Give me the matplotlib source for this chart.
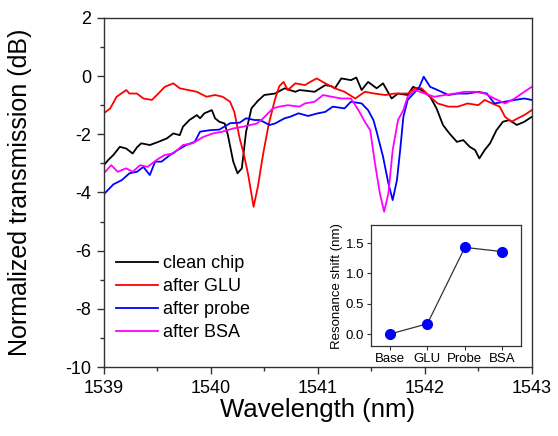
import matplotlib
matplotlib.use("Agg")
import matplotlib.pyplot as plt
from matplotlib.ticker import MultipleLocator, FormatStrFormatter

plt.rcParams['font.family'] = ['Liberation Sans', 'DejaVu Sans']
plt.rcParams['axes.unicode_minus'] = False

# ---- data ----
wl_clean = [1539.00, 1539.05, 1539.09, 1539.15, 1539.21, 1539.27, 1539.31, 1539.35, 1539.43, 1539.51,
            1539.59, 1539.65, 1539.71, 1539.74, 1539.80, 1539.87, 1539.90, 1539.94, 1540.01, 1540.04,
            1540.08, 1540.13, 1540.16, 1540.21, 1540.25, 1540.29, 1540.33, 1540.38, 1540.44, 1540.50,
            1540.60, 1540.66, 1540.69, 1540.79, 1540.83, 1540.88, 1540.97, 1541.07, 1541.13, 1541.16,
            1541.22, 1541.31, 1541.36, 1541.41, 1541.47, 1541.55, 1541.61, 1541.69, 1541.75, 1541.84,
            1541.89, 1541.97, 1542.05, 1542.11, 1542.17, 1542.23, 1542.30, 1542.36, 1542.42, 1542.47,
            1542.51, 1542.56, 1542.61, 1542.67, 1542.73, 1542.79, 1542.86, 1542.93, 1543.00]
clean = [-3.06, -2.85, -2.71, -2.43, -2.49, -2.66, -2.45, -2.31, -2.37, -2.26,
         -2.14, -1.97, -2.03, -1.74, -1.51, -1.34, -1.45, -1.28, -1.17, -1.45,
         -1.57, -1.63, -2.03, -2.94, -3.34, -3.17, -1.91, -1.11, -0.85, -0.65,
         -0.60, -0.48, -0.42, -0.54, -0.48, -0.50, -0.54, -0.31, -0.35, -0.42,
         -0.08, -0.14, -0.05, -0.48, -0.20, -0.42, -0.25, -0.77, -0.60, -0.65,
         -0.37, -0.48, -0.71, -1.11, -1.68, -1.97, -2.26, -2.20, -2.43, -2.54,
         -2.83, -2.54, -2.31, -1.86, -1.57, -1.51, -1.68, -1.57, -1.40]

wl_glu = [1539.00, 1539.06, 1539.12, 1539.21, 1539.24, 1539.31, 1539.37, 1539.45, 1539.51, 1539.57,
          1539.65, 1539.71, 1539.79, 1539.87, 1539.96, 1540.04, 1540.11, 1540.18, 1540.22, 1540.27,
          1540.31, 1540.35, 1540.40, 1540.44, 1540.49, 1540.54, 1540.60, 1540.64, 1540.68, 1540.72,
          1540.79, 1540.88, 1540.93, 1540.99, 1541.07, 1541.16, 1541.25, 1541.35, 1541.44, 1541.53,
          1541.63, 1541.72, 1541.84, 1541.91, 1541.97, 1542.05, 1542.12, 1542.22, 1542.31, 1542.40,
          1542.50, 1542.56, 1542.63, 1542.70, 1542.75, 1542.81, 1542.87, 1542.93, 1543.00]
glu = [-1.28, -1.11, -0.71, -0.48, -0.60, -0.60, -0.77, -0.82, -0.60, -0.37,
       -0.25, -0.42, -0.48, -0.54, -0.71, -0.65, -0.71, -0.88, -1.23, -2.14,
       -2.70, -3.40, -4.49, -3.80, -2.66, -1.68, -0.80, -0.35, -0.20, -0.48,
       -0.25, -0.31, -0.20, -0.08, -0.25, -0.42, -0.54, -0.77, -0.54, -0.60,
       -0.65, -0.60, -0.60, -0.42, -0.42, -0.71, -0.94, -1.05, -1.05, -0.94,
       -1.00, -0.82, -0.94, -1.05, -1.40, -1.57, -1.45, -1.34, -1.17]

wl_probe = [1539.00, 1539.09, 1539.17, 1539.24, 1539.31, 1539.37, 1539.43, 1539.48, 1539.54, 1539.62,
            1539.69, 1539.77, 1539.85, 1539.90, 1539.99, 1540.08, 1540.18, 1540.27, 1540.33, 1540.41,
            1540.46, 1540.55, 1540.60, 1540.69, 1540.74, 1540.82, 1540.91, 1540.94, 1541.00, 1541.07,
            1541.14, 1541.25, 1541.31, 1541.41, 1541.47, 1541.52, 1541.55, 1541.61, 1541.66, 1541.70,
            1541.74, 1541.77, 1541.80, 1541.84, 1541.91, 1541.95, 1541.99, 1542.05, 1542.12, 1542.22,
            1542.31, 1542.40, 1542.50, 1542.58, 1542.65, 1542.75, 1542.84, 1542.93, 1543.00]
probe = [-4.06, -3.72, -3.57, -3.34, -3.29, -3.12, -3.40, -2.94, -2.94, -2.71,
         -2.54, -2.37, -2.26, -1.91, -1.86, -1.84, -1.62, -1.60, -1.45, -1.51,
         -1.51, -1.68, -1.63, -1.45, -1.40, -1.28, -1.37, -1.34, -1.28, -1.23,
         -1.05, -1.11, -0.88, -0.94, -1.17, -1.51, -1.91, -2.77, -3.69, -4.26,
         -3.57, -2.54, -1.40, -0.82, -0.54, -0.37, -0.02, -0.37, -0.48, -0.65,
         -0.60, -0.60, -0.54, -0.60, -0.94, -0.88, -0.82, -0.77, -0.82]

wl_bsa = [1539.00, 1539.07, 1539.13, 1539.21, 1539.27, 1539.34, 1539.41, 1539.49, 1539.57, 1539.65,
          1539.74, 1539.83, 1539.93, 1540.02, 1540.11, 1540.21, 1540.30, 1540.43, 1540.49, 1540.58,
          1540.64, 1540.72, 1540.83, 1540.88, 1540.97, 1541.05, 1541.13, 1541.22, 1541.31, 1541.38,
          1541.44, 1541.49, 1541.53, 1541.58, 1541.62, 1541.66, 1541.70, 1541.75, 1541.80, 1541.84,
          1541.91, 1542.00, 1542.09, 1542.19, 1542.28, 1542.37, 1542.47, 1542.56, 1542.65, 1542.75,
          1542.84, 1542.93, 1543.00]
bsa = [-3.34, -3.06, -3.29, -3.17, -3.29, -3.06, -3.12, -2.89, -2.71, -2.66,
       -2.37, -2.31, -2.09, -1.97, -1.91, -1.80, -1.74, -1.63, -1.45, -1.11,
       -1.05, -1.00, -1.05, -0.94, -0.88, -0.65, -0.71, -0.77, -0.77, -1.17,
       -1.57, -1.86, -2.89, -4.03, -4.66, -4.03, -2.54, -1.51, -1.17, -0.71,
       -0.48, -0.60, -0.71, -0.65, -0.60, -0.54, -0.54, -0.60, -0.77, -0.94,
       -0.77, -0.54, -0.37]

series_labels = ['clean chip', 'after GLU', 'after probe', 'after BSA']
series_colors = ['black', '#ff0000', '#0000ff', '#ff00ff']

inset_steps = ['Base', 'GLU', 'Probe', 'BSA']
inset_shift = [0.0, 0.17, 1.43, 1.36]

# ---- figure ----
fig = plt.figure(figsize=(5.58, 4.36), dpi=100)
ax = fig.add_axes([0.186, 0.158, 0.767, 0.801])

data = [(wl_clean, clean), (wl_glu, glu), (wl_probe, probe), (wl_bsa, bsa)]
for (x, y), lab, col in zip(data, series_labels, series_colors):
    ax.plot(x, y, color=col, lw=1.3, label=lab)

ax.set_xlim(1539, 1543)
ax.set_ylim(-10, 2)
ax.xaxis.set_major_locator(MultipleLocator(1))
ax.xaxis.set_minor_locator(MultipleLocator(0.5))
ax.yaxis.set_major_locator(MultipleLocator(2))
ax.yaxis.set_minor_locator(MultipleLocator(1))
ax.xaxis.set_major_formatter(FormatStrFormatter('%d'))
ax.tick_params(which='major', direction='out', length=5, width=1, labelsize=13, pad=4, color='#333333')
ax.tick_params(which='minor', direction='out', length=3, width=1, color='#333333')
for s in ax.spines.values():
    s.set_color('#333333')
    s.set_linewidth(1.0)
ax.set_xlabel('Wavelength (nm)', fontsize=18.5)
ax.set_ylabel('Normalized transmission (dB)', fontsize=18)
ax.xaxis.set_label_coords(0.5, -0.088)
ax.yaxis.set_label_coords(-0.168, 0.5)

leg = ax.legend(loc='upper left', bbox_to_anchor=(116 / 558, 1 - 255 / 436),
                bbox_transform=fig.transFigure, frameon=False, fontsize=13,
                handlelength=2.3, handletextpad=0.3, labelspacing=0.33,
                borderpad=0, borderaxespad=0)

# ---- inset ----
axi = fig.add_axes([0.665, 0.206, 0.269, 0.278])
pos = list(range(len(inset_steps)))
axi.plot(pos, inset_shift, color='#333333', lw=0.9, marker='o', markersize=7,
         markerfacecolor='#0000ff', markeredgecolor='#0000ff', zorder=3)
axi.set_xlim(-0.5, 3.5)
axi.set_ylim(-0.2, 1.8)
axi.set_xticks(pos)
axi.set_xticklabels(inset_steps)
axi.yaxis.set_major_locator(MultipleLocator(0.5))
axi.tick_params(direction='out', length=3, width=0.8, labelsize=9.5, pad=2, color='#333333')
for s in axi.spines.values():
    s.set_color('#333333')
    s.set_linewidth(0.9)
axi.set_ylabel('Resonance shift (nm)', fontsize=9.5, labelpad=2)

fig.savefig('out.png', dpi=100)
